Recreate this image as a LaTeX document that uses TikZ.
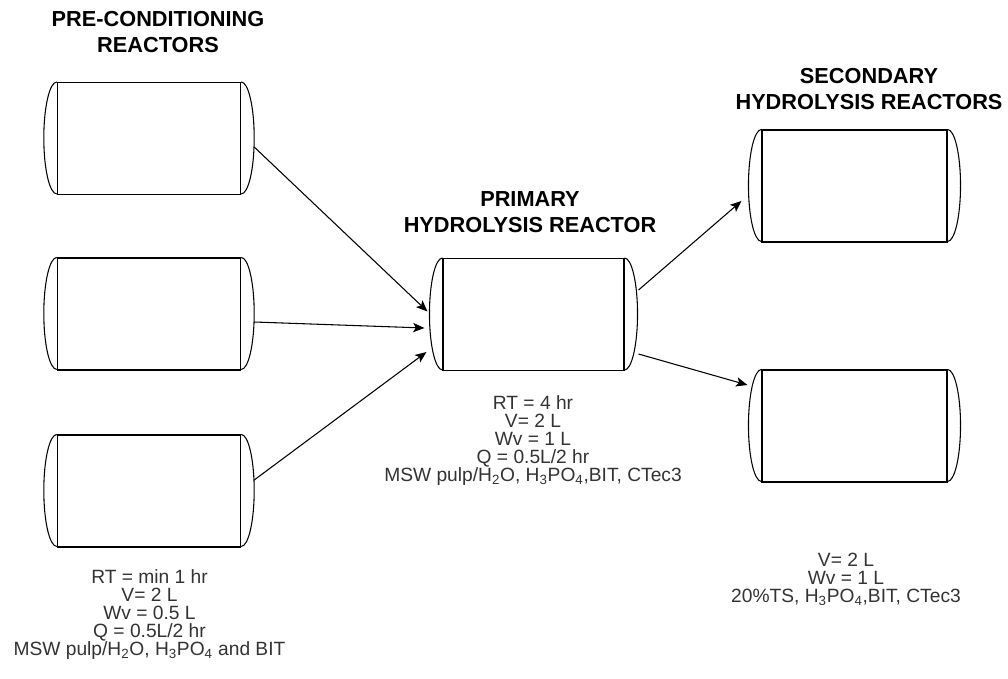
\documentclass[tikz,border=0pt]{standalone}
\usepackage{fontspec}
\setmainfont{Liberation Sans}
\usetikzlibrary{arrows.meta,calc}
\newcommand\reactorcaps[1]{%
  \draw[endcap] (#1.north west) arc[start angle=90,end angle=270,x radius=9.75pt,y radius=42pt];
  \draw[endcap] (#1.north east) arc[start angle=90,end angle=-90,x radius=9.75pt,y radius=42pt];}
\begin{document}
\begin{tikzpicture}[x=0.75pt,y=-0.75pt,
  rbody/.style={draw, line width=0.8pt, minimum height=84pt, inner sep=0pt},
  endcap/.style={line width=0.8pt},
  flow/.style={line width=0.8pt, -{Stealth[length=8.5pt,width=7pt,inset=2pt]}},
  title/.style={font=\fontsize{16.3}{20}\selectfont\bfseries, align=center},
  info/.style={font=\fontsize{14.4}{13.5}\selectfont, align=center, text=black!80}]
\useasboundingbox (0,0) rectangle (1008,679);

% reactors
\node[rbody, minimum width=137.5pt] (pre1) at (149,138.5) {};
\node[rbody, minimum width=137.5pt] (pre2) at (149,314) {};
\node[rbody, minimum width=137.5pt] (pre3) at (149,491) {};
\node[rbody, minimum width=135.75pt] (prim) at (533.5,314.5) {};
\node[rbody, minimum width=138.75pt] (sec1) at (854.5,186) {};
\node[rbody, minimum width=138.75pt] (sec2) at (854.5,426) {};
\reactorcaps{pre1}
\reactorcaps{pre2}
\reactorcaps{pre3}
\reactorcaps{prim}
\reactorcaps{sec1}
\reactorcaps{sec2}

% titles
\node[title] (t1) at (158,32) {PRE-CONDITIONING\\REACTORS};
\node[title] (t2) at (530,212) {PRIMARY\\HYDROLYSIS REACTOR};
\node[title] (t3) at (869,89) {SECONDARY\\HYDROLYSIS REACTORS};

% info
\node[info] (i1) at (149.5,615) {RT = min 1 hr\\V= 2 L\\Wv = 0.5 L\\Q = 0.5L/2 hr\\MSW pulp/H\textsubscript{2}O, H\textsubscript{3}PO\textsubscript{4} and BIT};
\node[info] (i2) at (533,441) {RT = 4 hr\\V= 2 L\\Wv = 1 L\\Q = 0.5L/2 hr\\MSW pulp/H\textsubscript{2}O, H\textsubscript{3}PO\textsubscript{4},BIT, CTec3};
\node[info] (i3) at (846,579) {V= 2 L\\Wv = 1 L\\20\%TS, H\textsubscript{3}PO\textsubscript{4},BIT, CTec3};

% flows
\draw[flow] ($(pre1.east)+(13,8.5)$) -- ($(prim.west)+(-15,-3)$);
\draw[flow] ($(pre2.east)+(13,8)$) -- ($(prim.west)+(-18,13.5)$);
\draw[flow] ($(pre3.east)+(13,-11)$) -- ($(prim.west)+(-16,37.5)$);
\draw[flow] ($(prim.east)+(14,-24.5)$) -- ($(sec1.west)+(-20,15)$);
\draw[flow] ($(prim.east)+(14,39.5)$) -- ($(sec2.west)+(-14,-41)$);
\end{tikzpicture}
\end{document}
